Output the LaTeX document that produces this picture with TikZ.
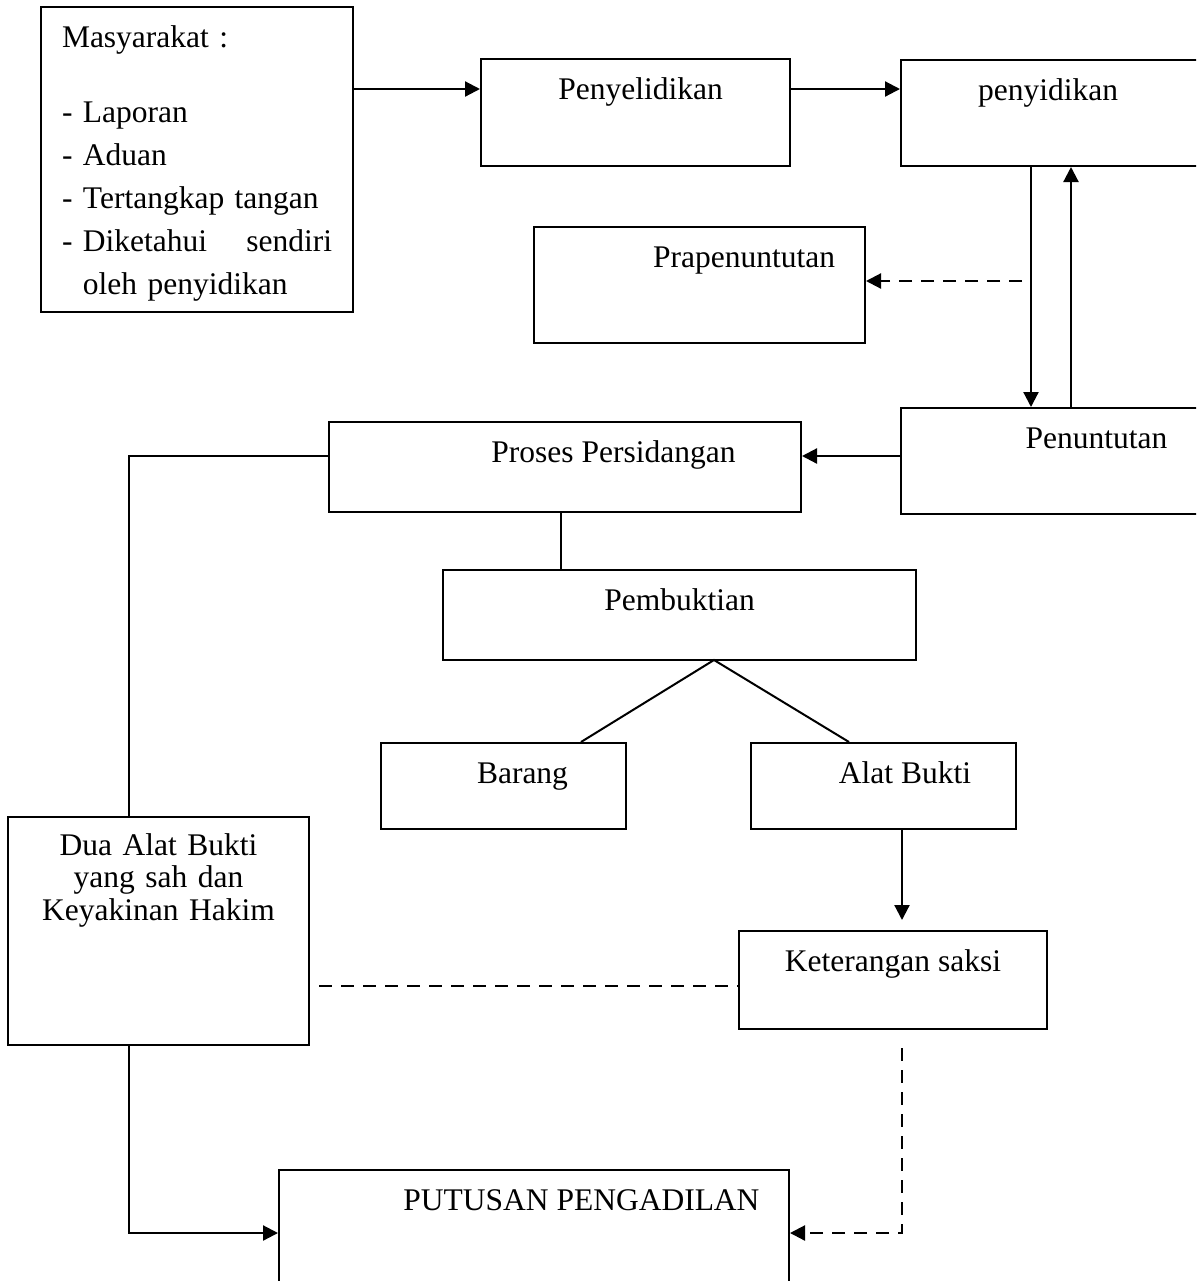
\documentclass[tikz,border=0pt]{standalone}
\usepackage{fontspec}
\setmainfont{Liberation Serif}
\usetikzlibrary{arrows.meta}

\begin{document}
\begin{tikzpicture}[
      x=0.5pt, y=-0.5pt,
      font=\fontsize{15.75}{21.5}\selectfont,
      box/.style={rectangle, draw, line width=1pt, inner sep=0pt, text height=20pt},
      arr/.style={->, >={Triangle[length=7.5pt,width=7.5pt]}, line width=1.1pt},
      link/.style={line width=1pt},
      dashline/.style={line width=1.1pt, dash pattern=on 6.5pt off 4.5pt},
      dasharr/.style={arr, dash pattern=on 6.5pt off 4.5pt}
    ]
      \useasboundingbox (0,0) rectangle (1196,1281);
      \clip (0,0) rectangle (1196,1281);
      \node[box, text width=135pt, inner xsep=10.5pt, align=left, text depth=132.5pt] (masy) at (197,159.5)
        {Masyarakat :\\[16pt] - Laporan\\ - Aduan\\ - Tertangkap tangan\\ - Diketahui\hfill sendiri\\ \phantom{- }oleh penyidikan};
      \node[box, minimum width=154.5pt, text depth=33.5pt] (penyel) at (635.5,112.5) {\hspace*{5pt}Penyelidikan};
      \node[box, minimum width=152pt, text depth=33pt]     (penyid) at (1053,113)    {penyidikan\hspace*{5pt}};
      \node[box, minimum width=165.5pt, text depth=38pt]   (prapen) at (699.5,285)   {\hspace*{44.5pt}Prapenuntutan};
      \node[box, minimum width=152pt, text depth=33pt]     (penunt) at (1053,461)    {\hspace*{43.5pt}Penuntutan};
      \node[box, minimum width=236pt, text depth=25pt]     (proses) at (565,467)     {\hspace*{48.5pt}Proses Persidangan};
      \node[box, minimum width=236.5pt, text depth=25pt]   (pembuk) at (679.5,615)   {Pembuktian};
      \node[box, minimum width=122.5pt, text depth=23pt]   (barang) at (503.5,786)   {\hspace*{19pt}Barang};
      \node[box, minimum width=132.5pt, text depth=23pt]   (alat)   at (883.5,786)   {\hspace*{21.5pt}Alat Bukti};
      \node[box, minimum width=154pt, text depth=29pt]     (ket)    at (893,980)     {Keterangan saksi};
      \node[box, text width=150.5pt, align=center, text height=19pt, text depth=95pt,
        font=\fontsize{15.75}{16.25}\selectfont] (dua) at (158.5,931) {Dua Alat Bukti\\ yang sah dan\\ Keyakinan Hakim};
      \node[box, minimum width=255pt, text depth=43pt]     (putusan) at (534,1233)   {\hspace*{47.5pt}PUTUSAN PENGADILAN};

      \coordinate (topline) at (0,89);   \coordinate (downx) at (1031,0);  \coordinate (upx) at (1071,0);
      \coordinate (prafrom) at (1022,281); \coordinate (trialy) at (0,456); \coordinate (leftx) at (129,0);
      \coordinate (stemx) at (561,0);    \coordinate (fork) at (714,660);  \coordinate (barx) at (581,0);
      \coordinate (alatx) at (849,0);    \coordinate (saksix) at (902,0);  \coordinate (witnessy) at (0,986);
      \coordinate (endy) at (0,1233);

      \draw[arr] (masy.east |- topline) -- (penyel.west |- topline); \draw[arr] (penyel.east |- topline) -- (penyid.west |- topline);
      \draw[arr] (penyid.south -| downx) -- (penunt.north -| downx); \draw[arr] (penunt.north -| upx) -- (penyid.south -| upx);
      \draw[dasharr] (prafrom) -- (prapen.east |- prafrom);
      \draw[arr] (penunt.west |- trialy) -- (proses.east |- trialy);
      \draw[link] (proses.west |- trialy) -| (dua.north -| leftx);
      \draw[link] (proses.south -| stemx) -- (pembuk.north -| stemx);
      \draw[link] (barang.north -| barx) -- (fork) -- (alat.north -| alatx);
      \draw[arr, shorten >=5pt] (alat.south -| saksix) -- (ket.north -| saksix);
      \draw[dashline, shorten <=4.5pt] (dua.east |- witnessy) -- (ket.west |- witnessy);
      \draw[dasharr, shorten <=9pt] (ket.south -| saksix) |- (putusan.east |- endy);
      \draw[arr] (dua.south -| leftx) |- (putusan.west |- endy);
    \end{tikzpicture}
\end{document}
